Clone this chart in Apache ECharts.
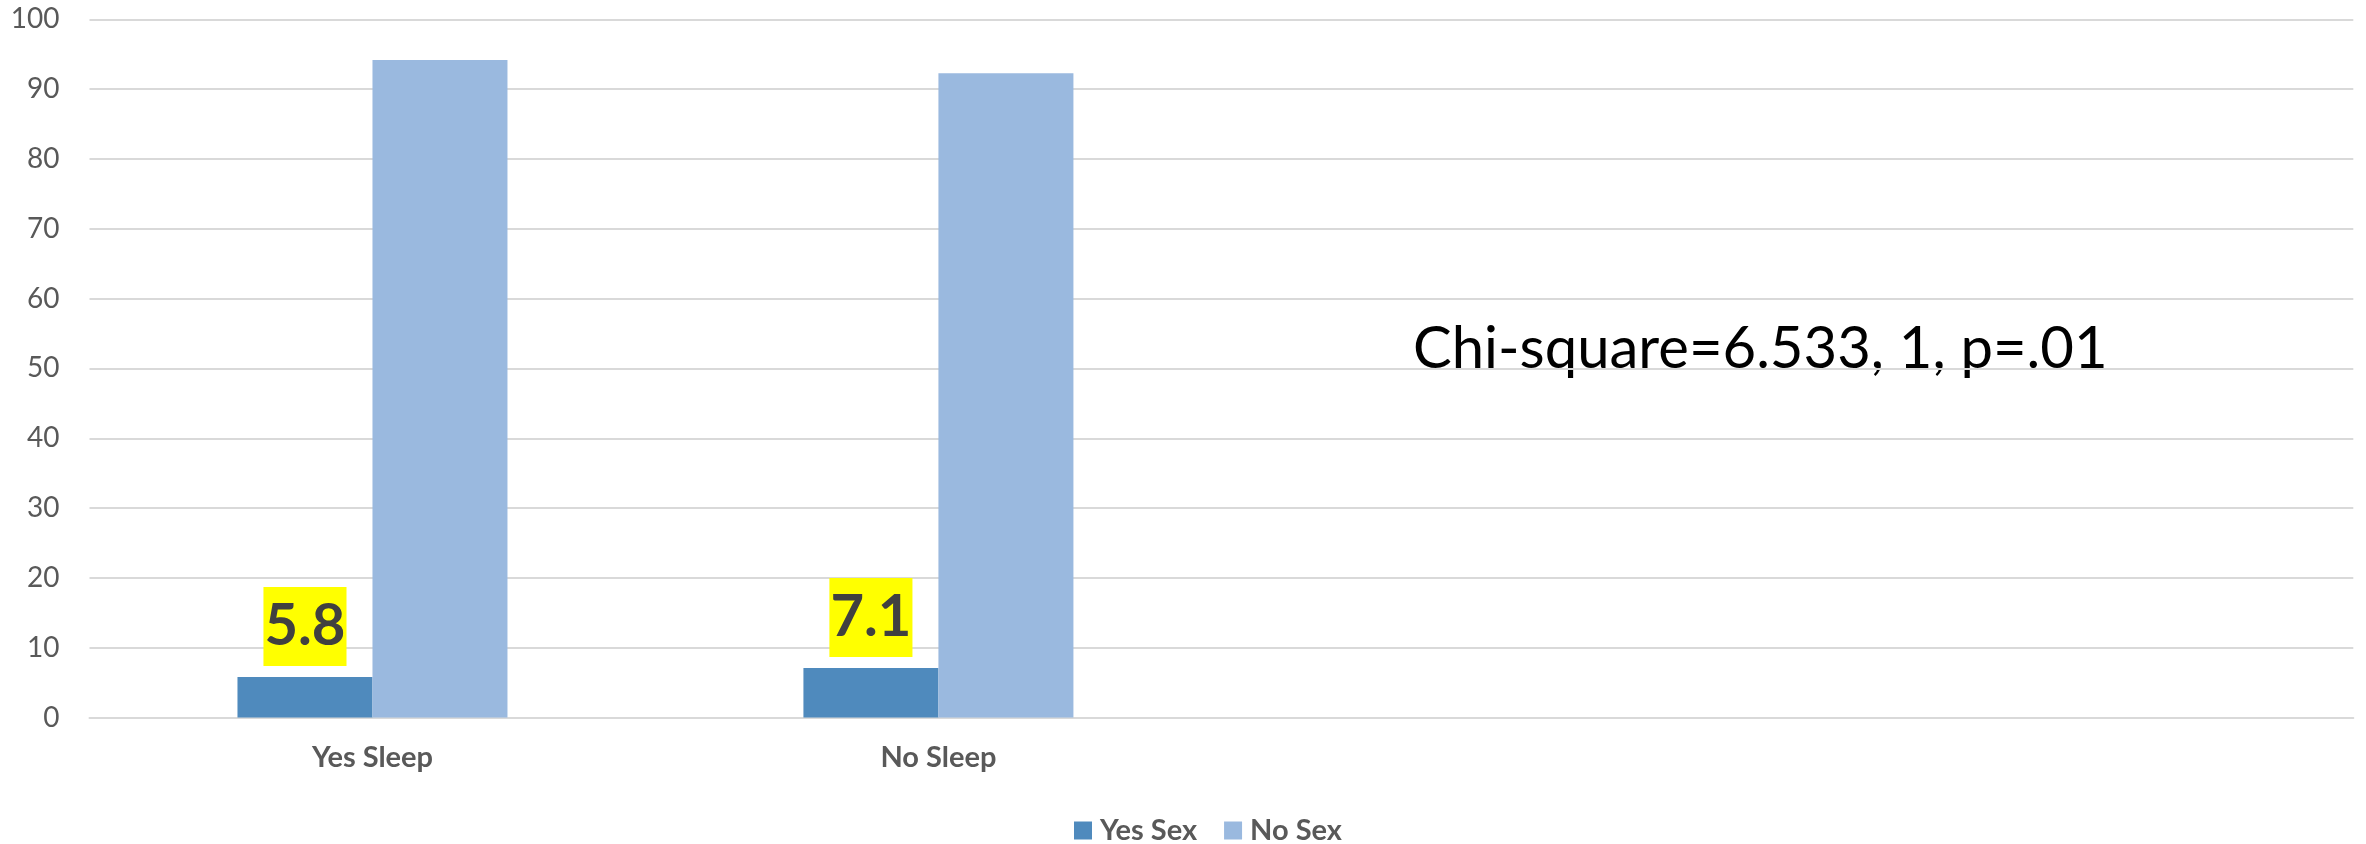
<!DOCTYPE html>
<html>
<head>
<meta charset="utf-8">
<script src="https://cdn.jsdelivr.net/npm/echarts@6/dist/echarts.min.js"></script>
<style>
  html, body { margin: 0; padding: 0; background: #fff; }
  #chart { width: 2366px; height: 844px; }
</style>
</head>
<body>
<div id="chart"></div>
<script>
// categories (last two slots are empty in the original chart)
var categories = ['Yes Sleep', 'No Sleep', '', ''];
var yesSex = [5.8, 7.1, null, null];
var noSex = [94.2, 92.3, null, null];
var seriesNames = ['Yes Sex', 'No Sex'];
var note = 'Chi-square=6.533, 1, p=.01';

var FONT = 'Lato, "Open Sans", sans-serif';

var myChart = echarts.init(document.getElementById('chart'));

var option = {
  backgroundColor: '#ffffff',
  animation: false,
  grid: {
    left: 89.5,
    right: 12.7,
    top: 19.4,
    bottom: 126.5,
    outerBoundsMode: 'none'
  },
  legend: {
    data: seriesNames,
    left: 1069,
    top: 811,
    icon: 'rect',
    itemWidth: 18,
    itemHeight: 18,
    itemGap: 27,
    textStyle: {
      fontFamily: FONT,
      fontWeight: 'bold',
      fontSize: 29,
      color: '#595959',
      padding: [0, 0, 0, 3]
    }
  },
  xAxis: {
    type: 'category',
    data: categories,
    axisLine: { lineStyle: { color: '#d9d9d9', width: 2 } },
    axisTick: { show: false },
    axisLabel: {
      margin: 26,
      fontFamily: FONT,
      fontWeight: 'bold',
      fontSize: 29,
      color: '#595959'
    }
  },
  yAxis: {
    type: 'value',
    min: 0,
    max: 100,
    interval: 10,
    axisLine: { show: false },
    axisTick: { show: false },
    splitLine: { lineStyle: { color: '#d9d9d9', width: 2 } },
    axisLabel: {
      margin: 30,
      fontFamily: FONT,
      fontSize: 28,
      color: '#595959'
    }
  },
  series: [
    {
      name: seriesNames[0],
      type: 'bar',
      data: yesSex,
      barWidth: 135,
      barGap: '0%',
      itemStyle: { color: '#4F8ABD' },
      label: {
        show: true,
        position: 'top',
        distance: 11,
        fontFamily: FONT,
        fontWeight: 'bold',
        fontSize: 58,
        lineHeight: 79,
        color: '#404040',
        backgroundColor: '#ffff00',
        padding: [0, 1]
      }
    },
    {
      name: seriesNames[1],
      type: 'bar',
      data: noSex,
      barWidth: 135,
      barGap: '0%',
      itemStyle: { color: '#9AB9DF' }
    }
  ],
  graphic: [
    {
      type: 'text',
      x: 1413,
      y: 349,
      style: {
        text: note,
        fill: '#000000',
        font: '58px ' + FONT,
        verticalAlign: 'middle'
      }
    }
  ]
};

option && myChart.setOption(option);
</script>
</body>
</html>
